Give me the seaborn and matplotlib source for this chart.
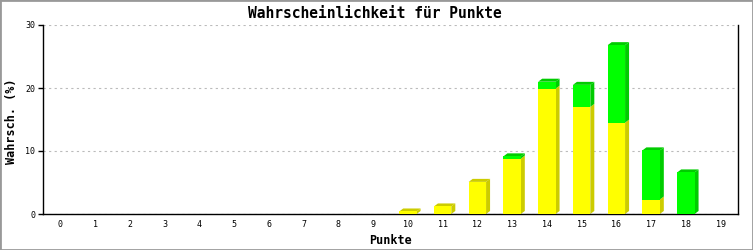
import numpy as np
import pandas as pd
import seaborn as sns
import matplotlib
matplotlib.use("Agg")
import matplotlib.pyplot as plt
from matplotlib.patches import Polygon, Rectangle

# ---- data ----
punkte = [str(i) for i in range(20)]
gelb = [0, 0, 0, 0, 0, 0, 0, 0, 0, 0, 0.4, 1.2, 5.1, 8.8, 19.9, 17.0, 14.5, 2.3, 0, 0]
gruen = [0, 0, 0, 0, 0, 0, 0, 0, 0, 0, 0, 0, 0, 0.35, 1.1, 3.5, 12.3, 7.8, 6.6, 0]
y_ticks = [0, 10, 20, 30]

title = "Wahrscheinlichkeit für Punkte"
ylabel = "Wahrsch. (%)"
xlabel = "Punkte"

YEL, YEL_D = "#FFFF00", "#CCCC00"
GRN, GRN_D = "#00FF00", "#00CC00"

sns.set_style("white")
plt.rcParams["font.family"] = ["DejaVu Sans Mono", "DejaVu Sans"]

W, H, DPI = 753, 250, 100
fig = plt.figure(figsize=(W / DPI, H / DPI), dpi=DPI)
ax = fig.add_axes([43 / W, 36 / H, 695 / W, 189 / H])

total = [a + b for a, b in zip(gelb, gruen)]
df = pd.DataFrame({"Punkte": punkte, "total": total, "gelb": gelb})

sns.barplot(data=df, x="Punkte", y="total", order=punkte, color=GRN, saturation=1,
            width=0.5, linewidth=0, errorbar=None, ax=ax, zorder=3)
sns.barplot(data=df, x="Punkte", y="gelb", order=punkte, color=YEL, saturation=1,
            width=0.5, linewidth=0, errorbar=None, ax=ax, zorder=3)

ax.set_xlim(-0.5, 19.5)
ax.set_ylim(0, 30)
ax.set_yticks(y_ticks)
ax.set_xlabel("")
ax.set_ylabel("")

# 3D depth offsets (pixels -> data)
p0 = ax.transData.transform((0, 0))
d = ax.transData.inverted().transform(p0 + np.array([4.0, 3.0]))
dx, dy = d[0] - ax.transData.inverted().transform(p0)[0], d[1] - ax.transData.inverted().transform(p0)[1]

patches = list(ax.patches)
tot_bars = patches[:len(punkte)]
for i, bar in enumerate(tot_bars):
    x0 = bar.get_x()
    x1 = x0 + bar.get_width()
    yv, tv = gelb[i], total[i]
    if tv <= 0:
        continue
    segs = []
    if yv > 0:
        segs.append((0, yv, YEL_D))
    if tv - yv > 0:
        segs.append((yv, tv, GRN_D))
    for (a, b, c) in segs:
        ax.add_patch(Polygon([(x1, a), (x1 + dx, a + dy), (x1 + dx, b + dy), (x1, b)],
                             closed=True, facecolor=c, edgecolor="none", zorder=2.5))
    topc = segs[-1][2]
    ax.add_patch(Polygon([(x0, tv), (x0 + dx, tv + dy), (x1 + dx, tv + dy), (x1, tv)],
                         closed=True, facecolor=topc, edgecolor="none", zorder=2.5))

# grid & spines
ax.set_axisbelow(True)
ax.yaxis.grid(True, color="#BBBBBB", linestyle=(0, (2, 3)), linewidth=0.8)
ax.xaxis.grid(False)
for s in ["left", "bottom", "right"]:
    ax.spines[s].set_visible(True)
    ax.spines[s].set_color("black")
    ax.spines[s].set_linewidth(1.0)
ax.spines["top"].set_visible(False)

ax.tick_params(axis="y", which="major", length=3.6, width=1.0, color="black",
               direction="out", pad=2, labelsize=6, left=True)
ax.tick_params(axis="x", which="major", length=0, pad=4.5, labelsize=6, bottom=True)
for lab in ax.get_xticklabels() + ax.get_yticklabels():
    lab.set_color("black")

# texts
fig.text(375 / W, 1 - 13 / H, title, ha="center", va="center", fontsize=10.5,
         fontweight="bold", color="black")
fig.text(12 / W, 1 - 121 / H, ylabel, ha="center", va="center", rotation=90,
         fontsize=8.5, fontweight="bold", color="black")
fig.text(390 / W, 1 - 240 / H, xlabel, ha="center", va="center",
         fontsize=8.5, fontweight="bold", color="black")

fig.patches.append(Rectangle((0, 0), 1, 1, transform=fig.transFigure, fill=False,
                             edgecolor="#999999", linewidth=2, zorder=10))

fig.savefig("out.png", dpi=DPI)
